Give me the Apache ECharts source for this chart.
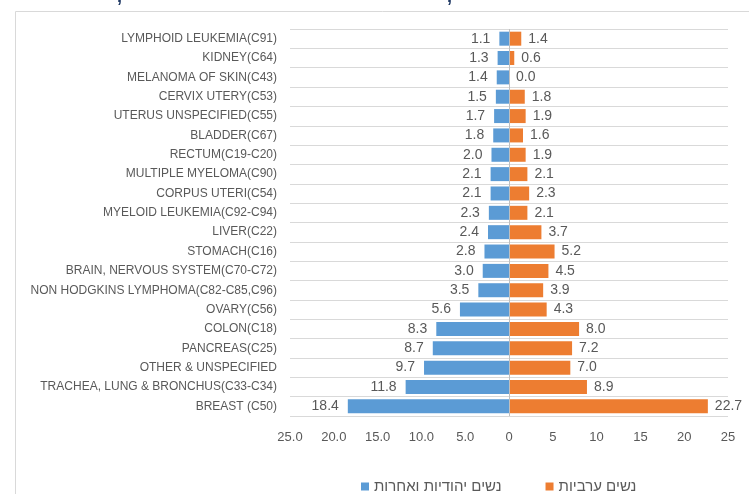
<!DOCTYPE html>
<html>
<head>
<meta charset="utf-8">
<script src="https://cdn.jsdelivr.net/npm/echarts@6/dist/echarts.min.js"></script>
<style>
  html, body { margin: 0; padding: 0; background: #fff; }
  #chart { width: 749px; height: 494px; }
</style>
</head>
<body>
<div id="chart"></div>
<script>
// categories, top to bottom
var categories = [
  'LYMPHOID LEUKEMIA(C91)', 'KIDNEY(C64)', 'MELANOMA OF SKIN(C43)', 'CERVIX UTERY(C53)',
  'UTERUS UNSPECIFIED(C55)', 'BLADDER(C67)', 'RECTUM(C19-C20)', 'MULTIPLE MYELOMA(C90)',
  'CORPUS UTERI(C54)', 'MYELOID LEUKEMIA(C92-C94)', 'LIVER(C22)', 'STOMACH(C16)',
  'BRAIN, NERVOUS SYSTEM(C70-C72)', 'NON HODGKINS LYMPHOMA(C82-C85,C96)', 'OVARY(C56)',
  'COLON(C18)', 'PANCREAS(C25)', 'OTHER & UNSPECIFIED', 'TRACHEA, LUNG & BRONCHUS(C33-C34)', 'BREAST (C50)'
];
// נשים יהודיות ואחרות (left side)
var jewishOther = [1.1, 1.3, 1.4, 1.5, 1.7, 1.8, 2.0, 2.1, 2.1, 2.3, 2.4, 2.8, 3.0, 3.5, 5.6, 8.3, 8.7, 9.7, 11.8, 18.4];
// נשים ערביות (right side)
var arab = [1.4, 0.6, 0.0, 1.8, 1.9, 1.6, 1.9, 2.1, 2.3, 2.1, 3.7, 5.2, 4.5, 3.9, 4.3, 8.0, 7.2, 7.0, 8.9, 22.7];
var seriesNames = ['נשים יהודיות ואחרות', 'נשים ערביות'];

var font = 'Liberation Sans';
var grey = '#595959';

var chart = echarts.init(document.getElementById('chart'));

var option = {
  animation: false,
  textStyle: { fontFamily: font },
  graphic: [
    // chart area border
    { type: 'rect', shape: { x: 15.5, y: 11.5, width: 900, height: 700 },
      style: { fill: 'none', stroke: '#d9d9d9', lineWidth: 1 }, silent: true },
    // bits of the cut-off title above
    { type: 'text', left: 117, top: -12, style: { text: ',', fill: '#1f3864', font: 'bold 18px ' + font } },
    { type: 'text', left: 447, top: -12, style: { text: ',', fill: '#1f3864', font: 'bold 18px ' + font } }
  ],
  legend: {
    data: seriesNames,
    left: 356,
    top: 474,
    itemWidth: 8,
    itemHeight: 8,
    itemGap: 44,
    icon: 'rect',
    textStyle: { color: grey, fontSize: 15, fontFamily: font }
  },
  grid: { left: 290, right: 21, top: 29, bottom: 78 },
  xAxis: {
    type: 'value',
    min: -25, max: 25, interval: 5,
    axisLine: { show: false },
    axisTick: { show: false },
    splitLine: { show: false },
    axisLabel: {
      color: grey, fontSize: 13, margin: 15,
      formatter: function (v) {
        if (v < 0) return (-v).toFixed(1);
        return String(v);
      }
    }
  },
  yAxis: {
    type: 'category',
    data: categories,
    inverse: true,
    axisLine: { show: false },
    axisTick: { show: false },
    splitLine: { show: true, lineStyle: { color: '#d9d9d9', width: 1 } },
    axisLabel: { color: grey, fontSize: 12, margin: 13 }
  },
  series: [
    {
      name: seriesNames[0],
      type: 'bar',
      barWidth: 14,
      barGap: '-100%',
      itemStyle: { color: '#5b9bd5' },
      data: jewishOther.map(function (v) { return -v; }),
      label: {
        show: true, position: 'left', distance: 9,
        color: grey, fontSize: 14,
        formatter: function (p) { return Math.abs(p.value).toFixed(1); }
      }
    },
    {
      name: seriesNames[1],
      type: 'bar',
      barWidth: 14,
      barGap: '-100%',
      itemStyle: { color: '#ed7d31' },
      data: arab,
      label: {
        show: true, position: 'right', distance: 7,
        color: grey, fontSize: 14,
        formatter: function (p) { return p.value.toFixed(1); }
      },
      markLine: {
        silent: true,
        symbol: 'none',
        label: { show: false },
        lineStyle: { color: '#bfbfbf', type: 'solid', width: 1 },
        data: [{ xAxis: 0 }]
      }
    }
  ]
};

chart.setOption(option);
</script>
</body>
</html>
